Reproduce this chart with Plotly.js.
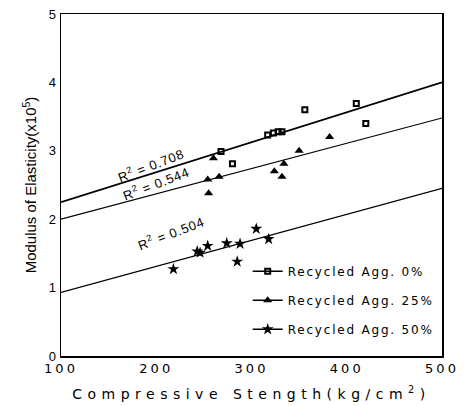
<!DOCTYPE html>
<html>
<head>
<meta charset="utf-8">
<script src="https://cdn.plot.ly/plotly-3.0.1.min.js"></script>
<style>
html, body { margin: 0; padding: 0; background: #fff; }
#chart { width: 469px; height: 406px; }
.xtick text { letter-spacing: 3px; }
.ytick text { letter-spacing: 1px; }
.g-xtitle text { letter-spacing: 5.5px; }
.legendtext { letter-spacing: 1.8px; }
.annotation-text { letter-spacing: 0.8px; }
</style>
</head>
<body>
<div id="chart"></div>
<script>
// Data
const seriesNames = ["Recycled Agg. 0%", "Recycled Agg. 25%", "Recycled Agg. 50%"];

const agg0_x = [356, 410, 420, 317, 323, 328, 332, 280, 268];
const agg0_y = [3.60, 3.69, 3.40, 3.23, 3.26, 3.28, 3.28, 2.81, 2.99];

const agg25_x = [382, 350, 334, 324, 332, 260, 254, 266, 255];
const agg25_y = [3.20, 3.00, 2.81, 2.70, 2.62, 2.89, 2.58, 2.62, 2.38];

const agg50_x = [305, 318, 288, 274, 254, 243, 246, 285, 218];
const agg50_y = [1.86, 1.71, 1.64, 1.65, 1.61, 1.53, 1.51, 1.38, 1.27];

// Regression lines (end points)
const fit_x = [100, 500];
const fit0_y = [2.25, 4.00];
const fit25_y = [2.00, 3.48];
const fit50_y = [0.93, 2.45];

const r2Labels = ["R<sup>2</sup> = 0.708", "R<sup>2</sup> = 0.544", "R<sup>2</sup> = 0.504"];
const r2_x = [194, 200, 215];
const r2_y = [2.79, 2.53, 1.80];

const xTicks = [100, 200, 300, 400, 500];
const yTicks = [0, 1, 2, 3, 4, 5];

// interleave nulls so the legend shows a line through the symbol but no lines are drawn between points
function gap(arr) { const o = []; arr.forEach(v => { o.push(v); o.push(null); }); return o; }

const symbols = ["square-open", "triangle-up", "star"];
const sizes = [5, 8, 9];
const xs = [agg0_x, agg25_x, agg50_x];
const ys = [agg0_y, agg25_y, agg50_y];

const traces = [];
[fit0_y, fit25_y, fit50_y].forEach((fy, i) => {
  traces.push({
    x: fit_x, y: fy, mode: "lines", showlegend: false, hoverinfo: "skip",
    line: { color: "#000", width: i === 0 ? 1.8 : 1.2 }
  });
});
for (let i = 0; i < 3; i++) {
  traces.push({
    x: gap(xs[i]), y: gap(ys[i]), name: seriesNames[i],
    mode: "lines+markers", connectgaps: false, legendgroup: "g" + i,
    line: { color: "#000", width: 1.5 },
    marker: { symbol: symbols[i], size: sizes[i], color: "#000", line: { color: "#000", width: i === 0 ? 2 : 0 } }
  });
}

const annotations = r2Labels.map((t, i) => ({
  x: r2_x[i], y: r2_y[i], xref: "x", yref: "y", text: t, showarrow: false,
  textangle: -21, font: { family: "Liberation Sans, Arial, sans-serif", size: 13, color: "#000" }
}));

const layout = {
  width: 469, height: 406,
  margin: { l: 61, r: 27, t: 14, b: 50 },
  paper_bgcolor: "#fff", plot_bgcolor: "#fff",
  showlegend: true,
  legend: {
    x: 0.49, y: 0.29, xanchor: "left", yanchor: "top",
    bgcolor: "rgba(0,0,0,0)", traceorder: "grouped", tracegroupgap: 10,
    font: { family: "DejaVu Sans, sans-serif", size: 12, color: "#000" }
  },
  xaxis: {
    range: [100, 500], tickvals: xTicks, ticks: "", showgrid: false, zeroline: false,
    showline: true, linecolor: "#000", linewidth: 1.5, mirror: true,
    tickfont: { family: "DejaVu Sans, sans-serif", size: 13, color: "#000" },
    title: { text: "Compressive Stength(kg/cm<sup>2</sup>)", standoff: 14,
      font: { family: "DejaVu Sans, sans-serif", size: 14, color: "#000" } }
  },
  yaxis: {
    range: [0, 5], tickvals: yTicks, ticks: "", showgrid: false, zeroline: false,
    showline: true, linecolor: "#000", linewidth: 1.5, mirror: true,
    tickfont: { family: "Liberation Sans, Arial, sans-serif", size: 13, color: "#000" },
    title: { text: "Modulus of Elasticity(x10<sup>5</sup>)", standoff: 8,
      font: { family: "Liberation Sans, Arial, sans-serif", size: 15, color: "#000" } }
  },
  annotations: annotations
};

Plotly.newPlot("chart", traces, layout, { displayModeBar: false, staticPlot: true });
</script>
</body>
</html>
